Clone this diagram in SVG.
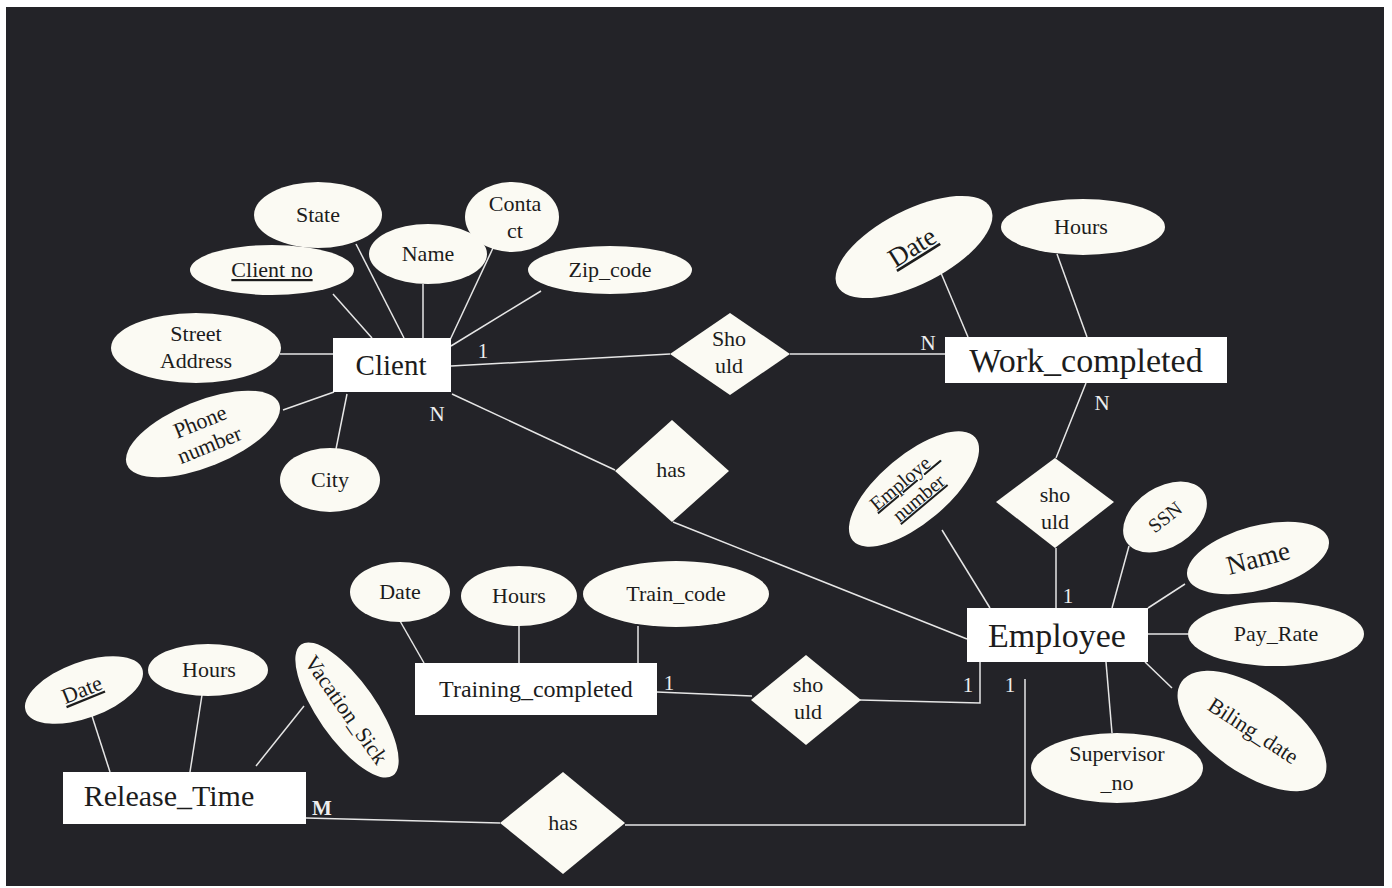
<svg xmlns="http://www.w3.org/2000/svg" width="1392" height="888" viewBox="0 0 1392 888">
  <style>
    .attr { fill: #fbfaf3; stroke: none; }
    .ent { fill: #ffffff; stroke: none; }
    .rel { fill: #fbfaf3; stroke: none; }
    .lbl { font-family: "Liberation Serif", "DejaVu Serif", serif; fill: #1c1c1c; text-anchor: middle; font-size: 22px; }
    .card { font-family: "Liberation Serif", "DejaVu Serif", serif; fill: #eeeeee; font-size: 21px; text-anchor: middle; }
    .key { text-decoration: underline; }
    #connectors line, #connectors polyline { stroke: #e6e6e6; stroke-width: 1.5; fill: none; }
  </style>

  <!-- page -->
  <rect x="0" y="0" width="1392" height="888" fill="#ffffff"/>
  <rect x="6" y="7" width="1378" height="879" fill="#232328"/>

  <!-- connectors -->
  <g id="connectors">
    <!-- Client attributes -->
    <line x1="333" y1="294" x2="372" y2="338"/>
    <line x1="356" y1="244" x2="404" y2="338"/>
    <line x1="423" y1="284" x2="423" y2="338"/>
    <line x1="493" y1="248" x2="450" y2="340"/>
    <line x1="541" y1="291" x2="451" y2="346"/>
    <line x1="280" y1="354" x2="333" y2="354"/>
    <line x1="283" y1="410" x2="334" y2="392"/>
    <line x1="347" y1="394" x2="336" y2="449"/>
    <!-- Client - Should - Work_completed -->
    <line x1="451" y1="366" x2="670" y2="354"/>
    <line x1="790" y1="354" x2="945" y2="354"/>
    <!-- Work_completed attributes -->
    <line x1="941" y1="273" x2="968" y2="337"/>
    <line x1="1057" y1="254" x2="1087" y2="337"/>
    <!-- Work_completed - should - Employee -->
    <line x1="1086" y1="383" x2="1056" y2="458"/>
    <line x1="1056" y1="548" x2="1056" y2="608"/>
    <!-- Client - has - Employee -->
    <line x1="452" y1="394" x2="615" y2="470"/>
    <line x1="673" y1="522" x2="967" y2="639"/>
    <!-- Employee attributes -->
    <line x1="942" y1="530" x2="990" y2="608"/>
    <line x1="1129" y1="546" x2="1112" y2="608"/>
    <line x1="1185" y1="584" x2="1148" y2="608"/>
    <line x1="1148" y1="634" x2="1188" y2="634"/>
    <line x1="1145" y1="662" x2="1172" y2="688"/>
    <line x1="1106" y1="662" x2="1112" y2="733"/>
    <!-- Training_completed attributes -->
    <line x1="400" y1="621" x2="424" y2="663"/>
    <line x1="519" y1="626" x2="519" y2="663"/>
    <line x1="638" y1="626" x2="638" y2="663"/>
    <!-- Training_completed - should - Employee -->
    <line x1="657" y1="692" x2="752" y2="696"/>
    <polyline points="860,700 980,703 980,662"/>
    <!-- Employee - has - Release_Time -->
    <polyline points="1025,679 1025,825 625,825"/>
    <line x1="306" y1="818" x2="500" y2="823"/>
    <!-- Release_Time attributes -->
    <line x1="92" y1="716" x2="110" y2="772"/>
    <line x1="202" y1="695" x2="190" y2="772"/>
    <line x1="304" y1="706" x2="256" y2="766"/>
  </g>

  <!-- cardinalities -->
  <g id="cardinality">
    <text class="card" x="483" y="358">1</text>
    <text class="card" x="437" y="421">N</text>
    <text class="card" x="928" y="350">N</text>
    <text class="card" x="1102" y="410">N</text>
    <text class="card" x="1068" y="603">1</text>
    <text class="card" x="669" y="690">1</text>
    <text class="card" x="968" y="692">1</text>
    <text class="card" x="1010" y="692">1</text>
    <text class="card" x="322" y="815" style="font-weight:bold">M</text>
  </g>

  <!-- Client -->
  <g id="client">
    <rect class="ent" x="333" y="338" width="118" height="54"/>
    <text class="lbl" x="391" y="375" style="font-size:29px">Client</text>
  </g>
  <g id="client-state">
    <ellipse class="attr" cx="318" cy="215" rx="64" ry="33"/>
    <text class="lbl" x="318" y="222">State</text>
  </g>
  <g id="client-no">
    <ellipse class="attr" cx="272" cy="270" rx="82" ry="25"/>
    <text class="lbl key" x="272" y="277">Client no</text>
  </g>
  <g id="client-name">
    <ellipse class="attr" cx="428" cy="254" rx="59" ry="30"/>
    <text class="lbl" x="428" y="261">Name</text>
  </g>
  <g id="client-contact">
    <ellipse class="attr" cx="512" cy="217" rx="47" ry="35"/>
    <text class="lbl" x="515" y="211">Conta</text>
    <text class="lbl" x="515" y="238">ct</text>
  </g>
  <g id="client-zip">
    <ellipse class="attr" cx="610" cy="270" rx="82" ry="24"/>
    <text class="lbl" x="610" y="277">Zip_code</text>
  </g>
  <g id="client-street">
    <ellipse class="attr" cx="196" cy="348" rx="85" ry="35"/>
    <text class="lbl" x="196" y="341">Street</text>
    <text class="lbl" x="196" y="368">Address</text>
  </g>
  <g id="client-phone">
    <ellipse class="attr" cx="203" cy="434" rx="82" ry="33" transform="rotate(-22 203 434)"/>
    <g transform="rotate(-22 205 434)">
      <text class="lbl" x="205" y="428">Phone</text>
      <text class="lbl" x="205" y="453">number</text>
    </g>
  </g>
  <g id="client-city">
    <ellipse class="attr" cx="330" cy="480" rx="50" ry="32"/>
    <text class="lbl" x="330" y="487">City</text>
  </g>

  <!-- Should (Client - Work_completed) -->
  <g id="rel-client-work">
    <polygon class="rel" points="730,313 790,354 730,395 670,354"/>
    <text class="lbl" x="729" y="346">Sho</text>
    <text class="lbl" x="729" y="373">uld</text>
  </g>

  <!-- Work_completed -->
  <g id="work-completed">
    <rect class="ent" x="945" y="337" width="282" height="46"/>
    <text class="lbl" x="1086" y="372" style="font-size:34px">Work_completed</text>
  </g>
  <g id="work-date">
    <ellipse class="attr" cx="914" cy="247" rx="86" ry="37" transform="rotate(-27 914 247)"/>
    <text class="lbl key" x="912" y="256" style="font-size:27px" transform="rotate(-32 912 247)">Date</text>
  </g>
  <g id="work-hours">
    <ellipse class="attr" cx="1083" cy="227" rx="82" ry="28"/>
    <text class="lbl" x="1081" y="234">Hours</text>
  </g>

  <!-- should (Work_completed - Employee) -->
  <g id="rel-work-employee">
    <polygon class="rel" points="1055,458 1114,502 1055,548 996,502"/>
    <text class="lbl" x="1055" y="502">sho</text>
    <text class="lbl" x="1055" y="529">uld</text>
  </g>

  <!-- has (Client - Employee) -->
  <g id="rel-client-employee">
    <polygon class="rel" points="672,420 729,471 672,522 615,471"/>
    <text class="lbl" x="671" y="477">has</text>
  </g>

  <!-- Employee -->
  <g id="employee">
    <rect class="ent" x="967" y="608" width="181" height="54"/>
    <text class="lbl" x="1057" y="647" style="font-size:34px">Employee</text>
  </g>
  <g id="employee-number">
    <ellipse class="attr" cx="914" cy="489" rx="80" ry="34" transform="rotate(-40 914 489)"/>
    <g transform="rotate(-40 912 490)">
      <text class="lbl key" x="912" y="484" style="font-size:20px">Employe_</text>
      <text class="lbl key" x="912" y="507" style="font-size:20px">number</text>
    </g>
  </g>
  <g id="employee-ssn">
    <ellipse class="attr" cx="1165" cy="517" rx="46" ry="30" transform="rotate(-33 1165 517)"/>
    <text class="lbl" x="1165" y="524" style="font-size:20px" transform="rotate(-38 1165 517)">SSN</text>
  </g>
  <g id="employee-name">
    <ellipse class="attr" cx="1258" cy="558" rx="73" ry="32" transform="rotate(-15 1258 558)"/>
    <text class="lbl" x="1258" y="567" style="font-size:27px" transform="rotate(-15 1258 558)">Name</text>
  </g>
  <g id="employee-payrate">
    <ellipse class="attr" cx="1276" cy="634" rx="88" ry="32"/>
    <text class="lbl" x="1276" y="641">Pay_Rate</text>
  </g>
  <g id="employee-biling">
    <ellipse class="attr" cx="1252" cy="731" rx="86" ry="42" transform="rotate(35 1252 731)"/>
    <text class="lbl" x="1253" y="738" transform="rotate(33 1253 731)">Biling_date</text>
  </g>
  <g id="employee-supervisor">
    <ellipse class="attr" cx="1117" cy="768" rx="86" ry="35"/>
    <text class="lbl" x="1117" y="761">Supervisor</text>
    <text class="lbl" x="1117" y="790">_no</text>
  </g>

  <!-- Training_completed -->
  <g id="training-completed">
    <rect class="ent" x="415" y="663" width="242" height="52"/>
    <text class="lbl" x="536" y="697" style="font-size:24px">Training_completed</text>
  </g>
  <g id="training-date">
    <ellipse class="attr" cx="400" cy="592" rx="50" ry="30"/>
    <text class="lbl" x="400" y="599">Date</text>
  </g>
  <g id="training-hours">
    <ellipse class="attr" cx="519" cy="596" rx="58" ry="30"/>
    <text class="lbl" x="519" y="603">Hours</text>
  </g>
  <g id="training-code">
    <ellipse class="attr" cx="676" cy="594" rx="93" ry="33"/>
    <text class="lbl" x="676" y="601">Train_code</text>
  </g>

  <!-- should (Training_completed - Employee) -->
  <g id="rel-training-employee">
    <polygon class="rel" points="806,655 861,700 806,745 751,700"/>
    <text class="lbl" x="808" y="692">sho</text>
    <text class="lbl" x="808" y="719">uld</text>
  </g>

  <!-- has (Employee - Release_Time) -->
  <g id="rel-employee-release">
    <polygon class="rel" points="563,772 625,823 563,874 500,823"/>
    <text class="lbl" x="563" y="830">has</text>
  </g>

  <!-- Release_Time -->
  <g id="release-time">
    <rect class="ent" x="63" y="772" width="243" height="52"/>
    <text class="lbl" x="169" y="806" style="font-size:30px">Release_Time</text>
  </g>
  <g id="release-date">
    <ellipse class="attr" cx="84" cy="690" rx="62" ry="28" transform="rotate(-20 84 690)"/>
    <text class="lbl key" x="82" y="697" transform="rotate(-22 82 690)">Date</text>
  </g>
  <g id="release-hours">
    <ellipse class="attr" cx="208" cy="670" rx="60" ry="26"/>
    <text class="lbl" x="209" y="677">Hours</text>
  </g>
  <g id="release-vacation">
    <ellipse class="attr" cx="347" cy="710" rx="80" ry="29" transform="rotate(55 347 710)"/>
    <text class="lbl" x="346" y="717" transform="rotate(55 346 710)">Vacation_Sick</text>
  </g>
</svg>
